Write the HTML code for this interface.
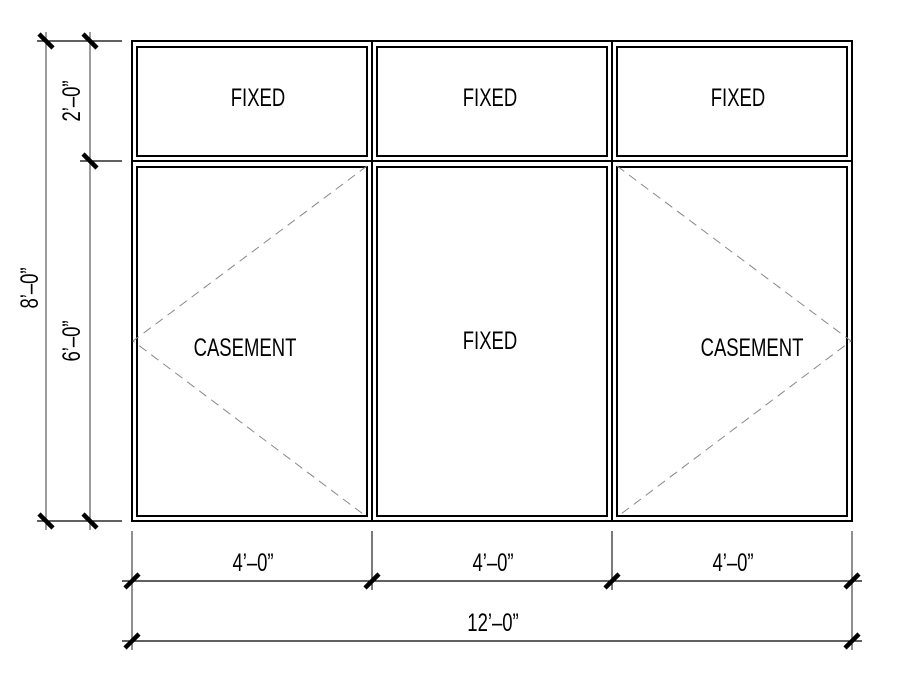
<!DOCTYPE html>
<html><head><style>body{margin:0;background:#fff}svg{display:block}
text{font-family:"Liberation Sans",sans-serif;font-size:25px;fill:#000}</style></head>
<body>
<svg width="898" height="693" viewBox="0 0 898 693" xmlns="http://www.w3.org/2000/svg">
<g fill="none" stroke="#000" stroke-width="2">
<rect x="132" y="41" width="720" height="480"/>
<line x1="372" y1="41" x2="372" y2="521"/>
<line x1="612" y1="41" x2="612" y2="521"/>
<line x1="132" y1="161" x2="852" y2="161"/>
<rect x="137" y="47" width="230" height="109"/>
<rect x="377" y="47" width="230" height="109"/>
<rect x="617" y="47" width="230" height="109"/>
<rect x="137" y="167" width="230" height="349"/>
<rect x="377" y="167" width="230" height="349"/>
<rect x="617" y="167" width="230" height="349"/>
</g>
<g fill="none" stroke="#888" stroke-width="1" stroke-dasharray="9,6">
<polyline points="367,166 133,341 367,517"/>
<polyline points="617,166 851,341 617,517"/>
</g>
<g stroke="#000" stroke-width="1.3">
<line x1="37" y1="41" x2="122" y2="41"/>
<line x1="80" y1="161" x2="122" y2="161"/>
<line x1="37" y1="521" x2="122" y2="521"/>
<line x1="46" y1="32" x2="46" y2="530" stroke="#666"/>
<line x1="90" y1="32" x2="90" y2="530" stroke="#666"/>
<line x1="132" y1="531" x2="132" y2="650" stroke="#555"/>
<line x1="372" y1="531" x2="372" y2="590" stroke="#333"/>
<line x1="612" y1="531" x2="612" y2="590" stroke="#333"/>
<line x1="852" y1="531" x2="852" y2="650" stroke="#555"/>
<line x1="122" y1="581" x2="862" y2="581"/>
<line x1="122" y1="641" x2="862" y2="641"/>
</g>
<g stroke="#000" stroke-width="4.5">
<line x1="39" y1="34" x2="53" y2="48"/><line x1="83" y1="34" x2="97" y2="48"/>
<line x1="83" y1="154" x2="97" y2="168"/>
<line x1="39" y1="514" x2="53" y2="528"/><line x1="83" y1="514" x2="97" y2="528"/>
<line x1="125" y1="588" x2="139" y2="574"/><line x1="365" y1="588" x2="379" y2="574"/>
<line x1="605" y1="588" x2="619" y2="574"/><line x1="845" y1="588" x2="859" y2="574"/>
<line x1="125" y1="648" x2="139" y2="634"/><line x1="845" y1="648" x2="859" y2="634"/>
</g>
<g text-anchor="middle">
<text transform="translate(258,106) scale(0.74,1)">FIXED</text>
<text transform="translate(490,106) scale(0.74,1)">FIXED</text>
<text transform="translate(738,106) scale(0.74,1)">FIXED</text>
<text transform="translate(245,356) scale(0.74,1)">CASEMENT</text>
<text transform="translate(490,349) scale(0.74,1)">FIXED</text>
<text transform="translate(752,356) scale(0.74,1)">CASEMENT</text>
<text transform="translate(253,571) scale(0.74,1)">4’–0”</text>
<text transform="translate(493,571) scale(0.74,1)">4’–0”</text>
<text transform="translate(733,571) scale(0.74,1)">4’–0”</text>
<text transform="translate(493,631) scale(0.74,1)">12’–0”</text>
<text transform="translate(80,101) rotate(-90) scale(0.74,1)">2’–0”</text>
<text transform="translate(80,341) rotate(-90) scale(0.74,1)">6’–0”</text>
<text transform="translate(38,288) rotate(-90) scale(0.74,1)">8’–0”</text>
</g>
</svg>
</body></html>
